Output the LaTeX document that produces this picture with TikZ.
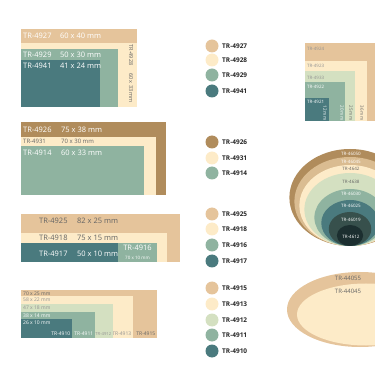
\documentclass[tikz,border=0pt]{standalone}
\usepackage{fontspec}
\setmainfont{Open Sans}
\definecolor{trTan}{RGB}{229,196,155}
\definecolor{trCream}{RGB}{253,235,200}
\definecolor{trSage}{RGB}{143,179,160}
\definecolor{trTeal}{RGB}{74,122,126}
\definecolor{trBrown}{RGB}{176,140,92}
\definecolor{trMint}{RGB}{212,224,193}
\definecolor{trSand}{RGB}{218,188,145}
\definecolor{trDark}{RGB}{55,80,76}
\definecolor{trDeep}{RGB}{28,47,48}
\definecolor{trGrey}{RGB}{100,100,100}
\begin{document}
\begin{tikzpicture}[x=1pt,y=-1pt,
  lbl/.style={inner sep=0pt,anchor=west,font=\fontsize{7.5}{8}\selectfont},
  tiny/.style={inner sep=0pt,font=\fontsize{4.5}{5}\selectfont},
  key/.style={inner sep=0pt,anchor=west,font=\fontsize{6.5}{7}\selectfont\bfseries,text=black!85}]
\clip (0,0) rectangle (375,366);
\useasboundingbox (0,0) rectangle (375,366);
% block 1
\fill[trCream] (21,29) rectangle (137,107);
\fill[trTan] (21,29) rectangle (137,43);
\fill[trSage] (21,49) rectangle (118,107);
\fill[trTeal] (21,60) rectangle (100,107);
\node[lbl,white] (a1) at (23,36) {TR-4927};
\node[lbl,white] (a1s) at (60,36) {60 x 40 mm};
\node[lbl,white] (a2) at (23,55) {TR-4929};
\node[lbl,white] (a2s) at (60,55) {50 x 30 mm};
\node[lbl,white] (a3) at (23,66) {TR-4941};
\node[lbl,white] (a3s) at (60,66) {41 x 24 mm};
\node[tiny,trGrey,rotate=-90,font=\fontsize{5.5}{6}\selectfont] (a4) at (131,55) {TR-4928};
\node[tiny,trGrey,rotate=-90,font=\fontsize{5.5}{6}\selectfont] (a4s) at (131,88) {60 x 33 mm};
% block 2
\fill[trBrown] (21,122) rectangle (166,195);
\fill[trCream] (21,137) rectangle (156,195);
\fill[trSage] (21,146) rectangle (144,195);
\node[lbl,white] (b1) at (23,130) {TR-4926};
\node[lbl,white] (b1s) at (61,130) {75 x 38 mm};
\node[lbl,trGrey,font=\fontsize{6}{7}\selectfont] (b2) at (23,141) {TR-4931};
\node[lbl,trGrey,font=\fontsize{6}{7}\selectfont] (b2s) at (61,141) {70 x 30 mm};
\node[lbl,white] (b3) at (23,153) {TR-4914};
\node[lbl,white] (b3s) at (61,153) {60 x 33 mm};
% block 3
\fill[trTan] (21,214) rectangle (180,262);
\fill[trCream] (21,233) rectangle (167,262);
\fill[trTeal] (21,243) rectangle (118,262);
\fill[trSage] (118,243) rectangle (157,262);
\node[lbl,trGrey] (c1) at (39,221) {TR-4925};
\node[lbl,trGrey] (c1s) at (77,221) {82 x 25 mm};
\node[lbl,trGrey] (c2) at (39,238) {TR-4918};
\node[lbl,trGrey] (c2s) at (77,238) {75 x 15 mm};
\node[lbl,white] (c3) at (39,254) {TR-4917};
\node[lbl,white] (c3s) at (77,254) {50 x 10 mm};
\node[inner sep=0pt,white,font=\fontsize{7.5}{8}\selectfont] (c4) at (137.5,248) {TR-4916};
\node[tiny,white] (c4s) at (137.5,257.5) {70 x 10 mm};
% block 4
\foreach \col/\top/\rt/\sz/\txt/\name/\tc/\fs in {trTan/290/157/70 x 25 mm/TR-4915/d5/trGrey/5,trCream/296/133/58 x 22 mm/TR-4913/d4/trGrey!70/5,trMint/304/113/47 x 18 mm/TR-4912/d3/trGrey!70/4.2,trSage/312/95/38 x 14 mm/TR-4911/d2/white/5,trTeal/319/72/26 x 10 mm/TR-4910/d1/white/5}
{
\fill[\col] (21,\top) rectangle (\rt,338);
\node[tiny,anchor=west,text=\tc,font=\fontsize{5}{6}\selectfont] (\name s) at (23,\top+3.5) {\sz};
\node[tiny,anchor=east,text=\tc,font=\fontsize{\fs}{6}\selectfont] (\name) at (\rt-1.5,334) {\txt};
}
% legend
\foreach \y/\col/\txt in {46/trTan/TR-4927,60/trCream/TR-4928,75/trSage/TR-4929,91/trTeal/TR-4941,
  142/trBrown/TR-4926,158/trCream/TR-4931,173/trSage/TR-4914,
  214/trTan/TR-4925,229/trCream/TR-4918,245/trSage/TR-4916,261/trTeal/TR-4917,
  288/trTan/TR-4915,304/trCream/TR-4913,320/trMint/TR-4912,335/trSage/TR-4911,351/trTeal/TR-4910}
{
\fill[\col] (212,\y) circle (6.5);
\node[key] (k\txt) at (222,\y) {\txt};
}
% top right
\foreach \col/\top/\rt/\txt/\ty/\tc in {trTan/43/380/TR-4924/49/trGrey!70,trCream/61/367/TR-4923/66/trGrey!70,trMint/71/355/TR-4933/78/trGrey!70,trSage/82/345/TR-4922/87/white,trTeal/98/329/TR-4921/102/white}
{
\fill[\col] (305,\top) rectangle (\rt,121);
\node[tiny,anchor=west,text=\tc] (e\txt) at (307,\ty) {\txt};
}
\foreach \x/\sz/\tc in {325/12/white,342/20/white,351/25/trGrey,362/36/trGrey}
  \node[tiny,rotate=-90,text=\tc] (m\sz) at (\x,113) {\sz\ mm};
% circles
\foreach \col/\top in {trBrown/149,trSand/157,trCream/165,trMint/173,trSage/189,trTeal/200,trDark/212,trDeep/225}
  \fill[\col] (350,{(246+\top)/2}) ellipse ({1.25*(246-\top)/2} and {(246-\top)/2});
\foreach \y/\txt/\tc in {154/TR-46050/white,162/TR-46045/white,169/TR-4642/trGrey,182/TR-4638/trGrey,194/TR-46030/white,206/TR-46025/white,220/TR-46019/white,237/TR-4612/white}
  \node[tiny,text=\tc] (r\txt) at (351,\y) {\txt};
% ellipses
\fill[trTan] (360,309.5) ellipse (73 and 37.5);
\fill[trCream] (366,314.5) ellipse (69 and 31);
\node[tiny,trGrey,font=\fontsize{6}{7}\selectfont] (s1) at (348,278) {TR-44055};
\node[tiny,trGrey,font=\fontsize{6}{7}\selectfont] (s2) at (348,291) {TR-44045};
\end{tikzpicture}
\end{document}
